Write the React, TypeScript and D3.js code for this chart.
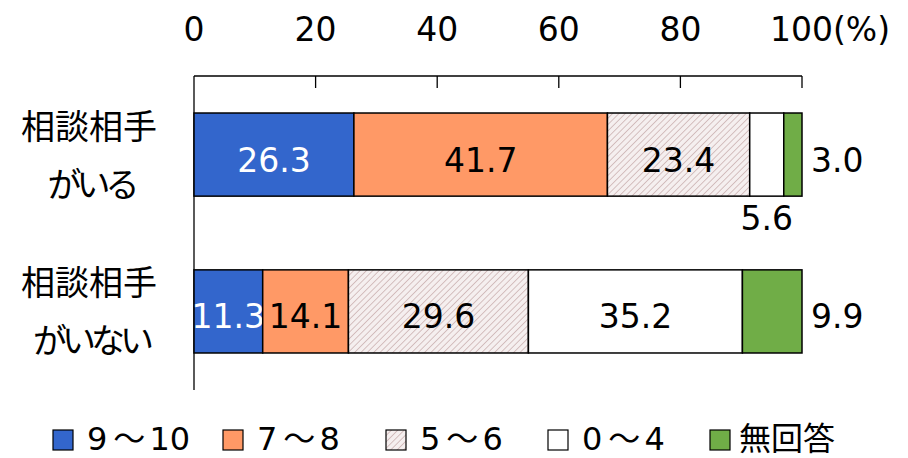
import React from "react";
import * as d3 from "d3";

const categories = ["相談相手\nがいる", "相談相手\nがいない"];
const seriesNames = ["9～10", "7～8", "5～6", "0～4", "無回答"];
const values: number[][] = [
  [26.3, 41.7, 23.4, 5.6, 3.0],
  [11.3, 14.1, 29.6, 35.2, 9.9],
];
// label placement per cell: in | right | below
const labelPos: string[][] = [
  ["in", "in", "in", "below", "right"],
  ["in", "in", "in", "in", "right"],
];
const ticks = [0, 20, 40, 60, 80, 100];

const fills = ["#3366CC", "#FF9966", "url(#hatch)", "#FFFFFF", "#70AD47"];
const labelColors = ["#FFFFFF", "#000000", "#000000", "#000000", "#000000"];
const FONT = "'DejaVu Sans', 'Noto Sans CJK JP', sans-serif";
const CJK = "'Noto Sans CJK JP', sans-serif";

export default function App() {
  const W = 908, H = 458;
  const x = d3.scaleLinear().domain([0, 100]).range([194, 802]);
  const y = d3.scaleBand<string>().domain(categories).range([76, 390]).paddingInner(0.47).paddingOuter(0.236);
  const bw = y.bandwidth();
  const fs = 33;

  const legendX = [53, 223, 386, 548, 710];

  return (
    <svg width={W} height={H} style={{ position: "absolute", left: 0, top: 0, background: "#fff" }} fontFamily={FONT}>
      <defs>
        <pattern id="hatch" patternUnits="userSpaceOnUse" width={4.5} height={4.5} patternTransform="rotate(45)">
          <rect width={4.5} height={4.5} fill="#F5EFEF" />
          <line x1={0} y1={0} x2={0} y2={4.5} stroke="#CDB4B4" strokeWidth={1.6} />
        </pattern>
      </defs>
      {/* axis */}
      <line x1={x(0)} x2={x(100)} y1={76} y2={76} stroke="#000" strokeWidth={1.3} />
      <line x1={x(0)} x2={x(0)} y1={76} y2={390} stroke="#000" strokeWidth={1.3} />
      {ticks.map((t) => (
        <g key={t}>
          {t > 0 && <line x1={x(t)} x2={x(t)} y1={76} y2={88} stroke="#000" strokeWidth={1.3} />}
          <text x={t === 100 ? x(t) - 32 : x(t)} y={41} fontSize={fs} textAnchor={t === 100 ? "start" : "middle"} fill="#000">
            {t === 100 ? "100(%)" : String(t)}
          </text>
        </g>
      ))}
      {/* category labels */}
      {categories.map((c) => {
        const lines = c.split("\n");
        const cy = (y(c) as number) + bw / 2;
        return (
          <g key={c}>
            {lines.map((l, i) => (
              <text key={i} x={i === 0 ? 89 : 91} y={i === 0 ? cy - 16 : cy + 42} fontSize={34} fontFamily={CJK}
                letterSpacing={i === 0 ? 0 : -5} textAnchor="middle" fill="#000">
                {l}
              </text>
            ))}
          </g>
        );
      })}
      {/* bars */}
      {values.map((row, ri) => {
        const cat = categories[ri];
        const y0 = y(cat) as number;
        let acc = 0;
        return (
          <g key={ri}>
            {row.map((v, si) => {
              const x0 = x(acc);
              acc += v;
              const x1 = x(Math.min(acc, 100));
              const pos = labelPos[ri][si];
              let lx = (x0 + x1) / 2, ly = y0 + bw / 2 + 17, anchor = "middle";
              let col = labelColors[si];
              if (pos === "right") { lx = x(100) + 9; anchor = "start"; col = "#000"; }
              if (pos === "below") { ly = y0 + bw + 34; col = "#000"; }
              return (
                <g key={si}>
                  <rect x={x0} y={y0} width={x1 - x0} height={bw} fill={fills[si]} stroke="#000" strokeWidth={1.5} />
                  <text x={lx} y={ly} fontSize={fs} textAnchor={anchor} fill={col}>
                    {v.toFixed(1)}
                  </text>
                </g>
              );
            })}
          </g>
        );
      })}
      {/* legend */}
      {seriesNames.map((s, i) => {
        const parts = s.split("～");
        return (
          <g key={s}>
            <rect x={legendX[i]} y={430} width={20} height={20} fill={fills[i]} stroke="#000" strokeWidth={1.2} />
            {parts.length === 2 ? (
              <text x={legendX[i] + 34} y={450} fontSize={32} fill="#000">
                <tspan>{parts[0]}</tspan>
                <tspan dx={6} fontFamily={CJK}>～</tspan>
                <tspan dx={4}>{parts[1]}</tspan>
              </text>
            ) : (
              <text x={legendX[i] + 29} y={450} fontSize={32} fontFamily={CJK} fill="#000">{s}</text>
            )}
          </g>
        );
      })}
    </svg>
  );
}
